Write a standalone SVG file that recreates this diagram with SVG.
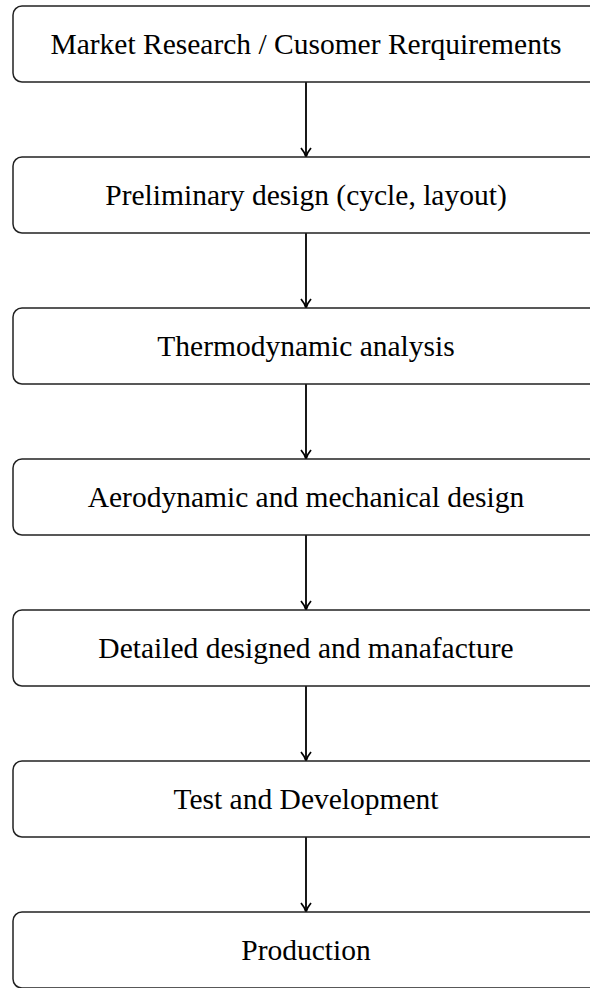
<svg xmlns="http://www.w3.org/2000/svg" width="590" height="988" viewBox="0 0 590 988">
<style>
.box{fill:#fff;stroke:#222;stroke-width:1.5}
.lbl{font-family:"Liberation Serif","Times New Roman",serif;font-size:29.5px;fill:#000;text-anchor:middle;dominant-baseline:central}
.conn{stroke:#000;stroke-width:1.8;fill:none;marker-end:url(#arr)}
</style>
<defs>
<marker id="arr" markerUnits="userSpaceOnUse" markerWidth="14" markerHeight="14" refX="11" refY="7" orient="auto">
<path d="M2,2 Q6,5.5 11,7 Q6,8.5 2,12" fill="none" stroke="#000" stroke-width="1.8"/>
</marker>
</defs>
<rect width="590" height="988" fill="#fff"/>
<g id="connectors">
<line class="conn" x1="306" y1="82" x2="306" y2="157"/>
<line class="conn" x1="306" y1="233" x2="306" y2="308"/>
<line class="conn" x1="306" y1="384" x2="306" y2="459"/>
<line class="conn" x1="306" y1="535" x2="306" y2="610"/>
<line class="conn" x1="306" y1="686" x2="306" y2="761"/>
<line class="conn" x1="306" y1="837" x2="306" y2="912"/>
</g>
<g id="n1"><rect class="box" x="13" y="6" width="586" height="76" rx="9"/><text class="lbl" x="306" y="44">Market Research / Cusomer Rerquirements</text></g>
<g id="n2"><rect class="box" x="13" y="157" width="586" height="76" rx="9"/><text class="lbl" x="306" y="195">Preliminary design (cycle, layout)</text></g>
<g id="n3"><rect class="box" x="13" y="308" width="586" height="76" rx="9"/><text class="lbl" x="306" y="346">Thermodynamic analysis</text></g>
<g id="n4"><rect class="box" x="13" y="459" width="586" height="76" rx="9"/><text class="lbl" x="306" y="497">Aerodynamic and mechanical design</text></g>
<g id="n5"><rect class="box" x="13" y="610" width="586" height="76" rx="9"/><text class="lbl" x="306" y="648">Detailed designed and manafacture</text></g>
<g id="n6"><rect class="box" x="13" y="761" width="586" height="76" rx="9"/><text class="lbl" x="306" y="799">Test and Development</text></g>
<g id="n7"><rect class="box" x="13" y="912" width="586" height="76" rx="9"/><text class="lbl" x="306" y="950">Production</text></g>
</svg>
